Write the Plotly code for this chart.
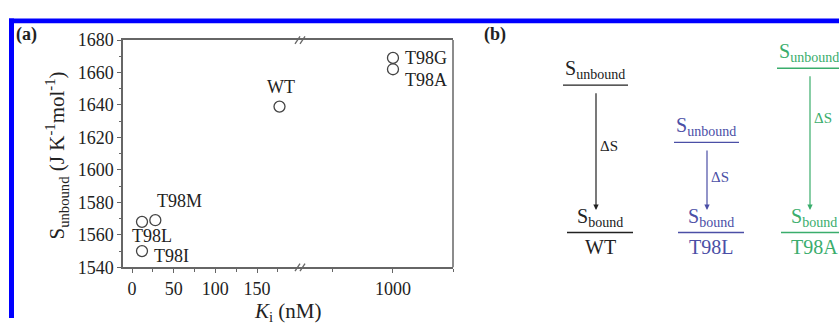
import plotly.graph_objects as go

W, H = 839, 328

# ---------------- data: panel (a) ----------------
mutants = ["T98L", "T98M", "T98I", "WT", "T98G", "T98A"]
ki_nM = [12, 28, 12, 177, 1000, 1000]
s_unbound = [1568, 1569, 1550, 1639, 1669, 1662]

y_tickvals = [1540, 1560, 1580, 1600, 1620, 1640, 1660, 1680]
x_left_ticks = [0, 50, 100, 150]
x_left_minor = [25, 75, 125, 175]
x_right_ticks = [1000]
x_right_minor = [500, 1500]
x_left_range = [-10.8, 204]
x_right_range = [242, 1500]
BREAK = 204

# ---------------- data: panel (b) ----------------
diag_names = ["WT", "T98L", "T98A"]
diag_unbound_level = [80, 141, 62]     # schematic level (pixel-like units)
diag_bound_level = [237, 237, 237]

# ---------------- styles ----------------
FONT = "Liberation Serif"
AX = "#666666"
TXT = "#222222"
diag_colors = ["#222222", "#4b4fa6", "#3aad6c"]
diag_center = [596, 707, 810]
label_style = {  # (xshift, yshift, xanchor)
    "T98L": (10, -14, "center"),
    "T98M": (24, 19, "center"),
    "T98I": (10, -5, "left"),
    "WT": (1, 20, "center"),
    "T98G": (10, 0, "left"),
    "T98A": (10, -11, "left"),
}


def px(x):
    return x / W


def py(y):
    return 1 - y / H


fig = go.Figure()

left = [i for i, k in enumerate(ki_nM) if k <= BREAK]
right = [i for i, k in enumerate(ki_nM) if k > BREAK]
marker = dict(symbol="circle-open", size=11, color="#444444", line=dict(width=1.3))
fig.add_trace(go.Scatter(x=[ki_nM[i] for i in left], y=[s_unbound[i] for i in left],
                         mode="markers", marker=marker, xaxis="x", yaxis="y",
                         showlegend=False, cliponaxis=False))
fig.add_trace(go.Scatter(x=[ki_nM[i] for i in right], y=[s_unbound[i] for i in right],
                         mode="markers", marker=marker, xaxis="x2", yaxis="y",
                         showlegend=False, cliponaxis=False))

annotations = []
for i, name in enumerate(mutants):
    dx, dy, anc = label_style[name]
    annotations.append(dict(
        x=ki_nM[i], y=s_unbound[i], xref="x" if ki_nM[i] <= BREAK else "x2", yref="y",
        text=name, showarrow=False, xshift=dx, yshift=dy, xanchor=anc, yanchor="middle",
        font=dict(family=FONT, size=18, color=TXT)))

# axis titles and panel labels
annotations += [
    dict(x=px(57), y=py(155), xref="paper", yref="paper", textangle=-90,
         text="S<sub>unbound</sub> (J K<sup>-1</sup>mol<sup>-1</sup>)", showarrow=False,
         xanchor="center", yanchor="middle", font=dict(family=FONT, size=21, color=TXT)),
    dict(x=px(288), y=py(306), xref="paper", yref="paper",
         text="<i>K</i><sub>i</sub> (nM)", showarrow=False,
         xanchor="center", yanchor="top", font=dict(family=FONT, size=21, color=TXT)),
    dict(x=px(26), y=py(26), xref="paper", yref="paper", text="<b>(a)</b>", showarrow=False,
         xanchor="center", yanchor="middle", font=dict(family=FONT, size=18, color=TXT)),
    dict(x=px(495), y=py(26), xref="paper", yref="paper", text="<b>(b)</b>", showarrow=False,
         xanchor="center", yanchor="middle", font=dict(family=FONT, size=18, color=TXT)),
]

# panel (b) schematic
ds_y = [145, 178, 115]
for j, name in enumerate(diag_names):
    c = diag_colors[j]
    xc = diag_center[j]
    yu = diag_unbound_level[j]
    yb = diag_bound_level[j]
    fig.add_trace(go.Scatter(
        x=[xc - 33, xc + 32, None, xc - 29, xc + 37],
        y=[yu, yu, None, yb, yb], mode="lines", line=dict(color=c, width=1.4),
        xaxis="x3", yaxis="y3", showlegend=False, hoverinfo="skip"))
    annotations += [
        dict(x=xc, y=yb - 24, ax=xc, ay=yu + 7, xref="x3", yref="y3", axref="x3", ayref="y3",
             text="", showarrow=True, arrowhead=2, arrowsize=0.9, arrowwidth=1.2, arrowcolor=c),
        dict(x=xc - 1, y=yu - 1, xref="x3", yref="y3", text="S<sub>unbound</sub>",
             showarrow=False, xanchor="center", yanchor="bottom",
             font=dict(family=FONT, size=20, color=c)),
        dict(x=xc + 4, y=yb - 1, xref="x3", yref="y3", text="S<sub>bound</sub>",
             showarrow=False, xanchor="center", yanchor="bottom",
             font=dict(family=FONT, size=20, color=c)),
        dict(x=xc + 4, y=yb + 15, xref="x3", yref="y3", text=name,
             showarrow=False, xanchor="center", yanchor="middle",
             font=dict(family=FONT, size=20, color=c)),
        dict(x=xc + 13, y=ds_y[j], xref="x3", yref="y3", text="ΔS",
             showarrow=False, xanchor="center", yanchor="middle",
             font=dict(family=FONT, size=15, color=c)),
    ]

shapes = [
    # blue frame
    dict(type="rect", xref="paper", yref="paper", x0=px(9), x1=px(14), y0=py(H), y1=py(9),
         fillcolor="#0000ff", line=dict(width=0), layer="above"),
    dict(type="rect", xref="paper", yref="paper", x0=px(9), x1=px(W), y0=py(14), y1=py(9),
         fillcolor="#0000ff", line=dict(width=0), layer="above"),
    # right frame of panel (a)
    dict(type="line", xref="paper", yref="paper", x0=px(453), x1=px(453), y0=py(274), y1=py(32),
         line=dict(color=AX, width=1.5)),
]
# axis break marks
for yb in (32, 274):
    for off in (-5, 0):
        shapes.append(dict(type="line", xref="paper", yref="paper",
                           x0=px(302 + off - 2), y0=py(yb + 4), x1=px(302 + off + 3), y1=py(yb - 4),
                           line=dict(color=AX, width=1.3)))

tickfont = dict(family=FONT, size=18, color=TXT)
common_x = dict(showline=True, linecolor=AX, linewidth=1.5, mirror=True, ticks="outside",
                ticklen=4, tickcolor=AX, tickwidth=1.2, showgrid=False, zeroline=False,
                tickfont=tickfont, fixedrange=True)

fig.update_layout(
    width=W, height=H, margin=dict(l=0, r=0, t=0, b=0),
    paper_bgcolor="white", plot_bgcolor="rgba(0,0,0,0)",
    xaxis=dict(domain=[px(123), px(302)], range=x_left_range, anchor="y",
               tickvals=x_left_ticks,
               minor=dict(tickvals=x_left_minor, ticks="outside", ticklen=3, tickcolor=AX),
               **common_x),
    xaxis2=dict(domain=[px(302), px(453)], range=x_right_range, anchor="y",
                tickvals=x_right_ticks,
                minor=dict(tickvals=x_right_minor, ticks="outside", ticklen=3, tickcolor=AX),
                **common_x),
    yaxis=dict(domain=[py(274), py(32)], range=[1540, 1680], anchor="x",
               tickvals=y_tickvals, showline=True, linecolor=AX, linewidth=1.5,
               ticks="outside", ticklen=4, tickcolor=AX, tickwidth=1.2,
               minor=dict(dtick=10, ticks="outside", ticklen=2, tickcolor=AX),
               showgrid=False, zeroline=False, tickfont=tickfont, fixedrange=True),
    xaxis3=dict(domain=[0, 1], range=[0, W], visible=False, anchor="y3", fixedrange=True),
    yaxis3=dict(domain=[0, 1], range=[H, 0], visible=False, anchor="x3", fixedrange=True),
    annotations=annotations,
    shapes=shapes,
)

fig.write_html(
    "out.html",
    config={"displayModeBar": False},
    post_script="document.body.style.margin='0';document.body.style.padding='0';"
                "document.body.style.overflow='hidden';"
                "var g=document.getElementById('{plot_id}');g.style.position='fixed';"
                "g.style.left='0px';g.style.top='0px';",
)
